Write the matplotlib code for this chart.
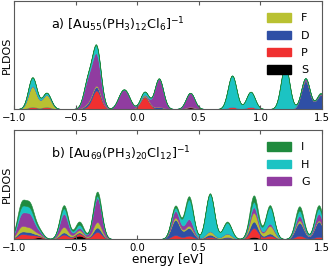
import numpy as np
import matplotlib
matplotlib.use('Agg')
import matplotlib.pyplot as plt
from matplotlib.patches import Patch

# peak positions (eV) and per-component peak heights, panel a
a_peak_e = [-0.85, -0.735, -0.40, -0.33, -0.13, -0.085, 0.06, 0.176, 0.43, 0.77, 0.92, 1.2, 1.365, 1.49]
a_S = [0, 0, 0, 0, 0, 0, 0, 0, 0.015, 0, 0, 0, 0, 0]
a_P = [0.02, 0.02, 0.01, 0.17, 0, 0, 0.11, 0, 0, 0.02, 0.02, 0, 0, 0]
a_D = [0, 0, 0.02, 0.03, 0, 0, 0.005, 0.02, 0.005, 0, 0, 0, 0.26, 0.13]
a_F = [0.19, 0.11, 0.005, 0.01, 0, 0, 0.01, 0, 0, 0, 0, 0, 0, 0]
a_G = [0, 0, 0.20, 0.27, 0.11, 0.11, 0.005, 0.26, 0.13, 0, 0, 0, 0.02, 0.01]
a_H = [0.08, 0.02, 0.02, 0.07, 0, 0, 0.03, 0, 0, 0.29, 0.14, 0.40, 0.005, 0]
a_I = [0.005, 0, 0.005, 0.01, 0.003, 0.003, 0, 0.005, 0, 0, 0, 0, 0, 0.01]

# panel b
b_peak_e = [-0.94, -0.87, -0.80, -0.595, -0.47, -0.324, 0.31, 0.42, 0.59, 0.73, 0.946, 1.076, 1.316, 1.473]
b_S = [0.005, 0, 0.015, 0, 0.03, 0.005, 0.005, 0, 0, 0, 0.02, 0, 0, 0]
b_P = [0.035, 0.03, 0.01, 0.04, 0.02, 0.06, 0.03, 0.03, 0.02, 0.01, 0.08, 0.03, 0.03, 0.02]
b_D = [0.02, 0.02, 0.005, 0.02, 0.01, 0.04, 0.14, 0.07, 0.02, 0.01, 0.06, 0.02, 0.12, 0.14]
b_F = [0.045, 0.035, 0.01, 0.05, 0.02, 0.05, 0.02, 0.02, 0.03, 0.03, 0.08, 0.07, 0.02, 0.01]
b_G = [0.10, 0.11, 0.02, 0.12, 0.02, 0.22, 0.06, 0.06, 0, 0, 0.05, 0.02, 0.04, 0.06]
b_H = [0.055, 0.045, 0.01, 0.05, 0.03, 0.02, 0.03, 0.18, 0.34, 0.10, 0.05, 0.15, 0.05, 0.05]
b_I = [0.045, 0.045, 0.01, 0.03, 0.03, 0.04, 0.02, 0.03, 0.01, 0.01, 0.06, 0.02, 0.04, 0.03]

labels = ['S', 'P', 'D', 'F', 'G', 'H', 'I']
colors = ['#000000', '#f03030', '#2f4fa5', '#b9c132', '#903ca0', '#1cc3c3', '#1f8a3e']
sigma = 0.035

energy = np.linspace(-1.0, 1.5, 1001)


def broaden(peak_e, heights):
    out = np.zeros_like(energy)
    for e0, h in zip(peak_e, heights):
        out += h * np.exp(-(energy - e0) ** 2 / (2 * sigma ** 2))
    return out


def panel(ax, peak_e, comps, title):
    ys = [broaden(peak_e, c) for c in comps]
    ax.stackplot(energy, ys, colors=colors, linewidth=0.4,
                 edgecolor='face')
    ax.set_xlim(-1.0, 1.5)
    ax.set_ylim(0, 1.0)
    ax.set_yticks([])
    ax.set_xticks([-1.0, -0.5, 0.0, 0.5, 1.0, 1.5])
    ax.tick_params(direction='in', top=True, labelsize=7.2, length=3,
                   color='0.35', pad=3)
    for s in ax.spines.values():
        s.set_color('0.35')
        s.set_linewidth(0.8)
    ax.set_ylabel('PLDOS', fontsize=8, labelpad=1.5)
    ax.text(0.12, 0.78, title, transform=ax.transAxes, fontsize=9.2,
            va='center', ha='left')


fig = plt.figure(figsize=(3.31, 2.67), dpi=100)
ax1 = fig.add_axes([0.042, 0.592, 0.931, 0.404])
ax2 = fig.add_axes([0.042, 0.105, 0.931, 0.408])

panel(ax1, a_peak_e, [a_S, a_P, a_D, a_F, a_G, a_H, a_I],
      r'a) [Au$_{55}$(PH$_3$)$_{12}$Cl$_6$]$^{-1}$')
panel(ax2, b_peak_e, [b_S, b_P, b_D, b_F, b_G, b_H, b_I],
      r'b) [Au$_{69}$(PH$_3$)$_{20}$Cl$_{12}$]$^{-1}$')
ax2.set_xlabel('energy [eV]', fontsize=8.7, labelpad=0)

h1 = [Patch(color=colors[i], label=labels[i]) for i in [3, 2, 1, 0]]
h2 = [Patch(color=colors[i], label=labels[i]) for i in [6, 5, 4]]
for ax, h in [(ax1, h1), (ax2, h2)]:
    ax.legend(handles=h, loc='upper right', frameon=False, fontsize=8,
              handlelength=2.2, handleheight=0.8, labelspacing=0.65,
              borderaxespad=0.7, handletextpad=0.9)

plt.savefig('out.png', dpi=100)
